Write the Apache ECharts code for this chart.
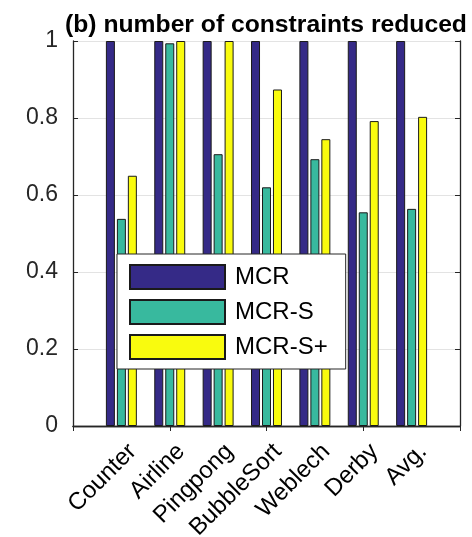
<!DOCTYPE html>
<html>
<head>
<meta charset="utf-8">
<script src="https://cdn.jsdelivr.net/npm/echarts@6/dist/echarts.min.js"></script>
<style>html,body{margin:0;padding:0;background:#fff;}#c{width:472px;height:537px;}</style>
</head>
<body>
<div id="c"></div>
<script>
var categories = ['Counter', 'Airline', 'Pingpong', 'BubbleSort', 'Weblech', 'Derby', 'Avg.'];
var seriesNames = ['MCR', 'MCR-S', 'MCR-S+'];
var mcr = [1, 1, 1, 1, 1, 1, 1];
var mcrS = [0.538, 0.994, 0.706, 0.62, 0.693, 0.555, 0.564];
var mcrSPlus = [0.650, 1, 1, 0.874, 0.745, 0.792, 0.803];
var yTicks = [0, 0.2, 0.4, 0.6, 0.8, 1];

var FONT = '"Liberation Sans", Arial, Helvetica, sans-serif';
var AX = '#262626';
var cats = [''].concat(categories).concat(['']);
function pad(arr) { return [null].concat(arr).concat([null]); }
var colors = ['#352a87', '#38b99e', '#f9fb0e'];
var datas = [mcr, mcrS, mcrSPlus];

var chart = echarts.init(document.getElementById('c'), null, {renderer: 'canvas'});
chart.setOption({
  animation: false,
  backgroundColor: '#fff',
  title: {
    text: '(b) number of constraints reduced',
    left: 261, top: 8, textAlign: 'center',
    textStyle: {fontFamily: FONT, fontSize: 24.7, fontWeight: 'bold', color: '#000'}
  },
  grid: {left: 73, right: 12, top: 41, bottom: 111, containLabel: false, outerBoundsMode: 'none'},
  legend: {
    orient: 'vertical', left: 117, top: 254,
    icon: 'rect', itemWidth: 95, itemHeight: 24, itemGap: 9,
    padding: [10, 18, 9, 12],
    backgroundColor: '#fff', borderColor: AX, borderWidth: 1, borderRadius: 0,
    textStyle: {fontFamily: FONT, fontSize: 24, color: '#000', padding: [0, 0, 0, 5]},
    data: seriesNames
  },
  xAxis: [{
    type: 'category', data: cats, boundaryGap: false, position: 'bottom',
    axisLine: {lineStyle: {color: AX, width: 1.3}},
    axisTick: {inside: true, length: 5, lineStyle: {color: AX}},
    axisLabel: {
      rotate: 45, interval: 0, margin: 2, verticalAlign: 'top', padding: [10, 6, 0, 0],
      fontFamily: FONT, fontSize: 24, color: '#000'
    },
    splitLine: {show: false}
  }, {
    type: 'category', data: cats, boundaryGap: false, position: 'top',
    axisLine: {lineStyle: {color: AX, width: 1.3}},
    axisTick: {inside: true, length: 5, lineStyle: {color: AX}},
    axisLabel: {show: false},
    splitLine: {show: false}
  }],
  yAxis: [{
    type: 'value', min: 0, max: 1, interval: 0.2, position: 'left',
    axisLine: {show: true, lineStyle: {color: AX, width: 1.3}},
    axisTick: {show: true, inside: true, length: 5, lineStyle: {color: AX}},
    axisLabel: {margin: 15, fontFamily: FONT, fontSize: 23, color: '#262626',
      formatter: function (v) { return String(+v.toFixed(1)); }},
    splitLine: {show: true, lineStyle: {color: '#e3e3e3', width: 1}}
  }, {
    type: 'value', min: 0, max: 1, interval: 0.2, position: 'right',
    axisLine: {show: true, lineStyle: {color: AX, width: 1.3}},
    axisTick: {show: true, inside: true, length: 5, lineStyle: {color: AX}},
    axisLabel: {show: false},
    splitLine: {show: false}
  }],
  series: seriesNames.map(function (n, i) {
    return {
      name: n, type: 'bar', xAxisIndex: 0, yAxisIndex: 0,
      data: pad(datas[i]),
      barWidth: 9, barGap: '22%',
      itemStyle: {color: colors[i], borderColor: '#1a1a1a', borderWidth: 1}
    };
  })
});
</script>
</body>
</html>
